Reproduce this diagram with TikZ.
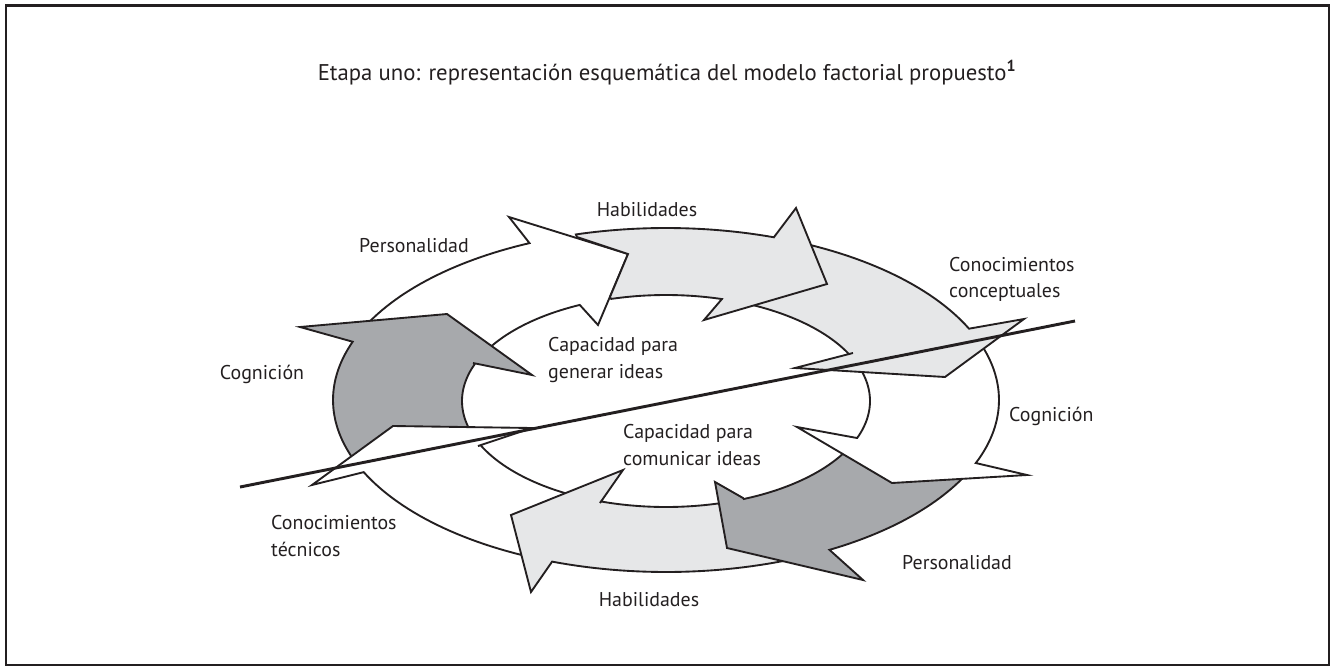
\documentclass[tikz,border=0pt]{standalone}
\usepackage{fontspec}
\setmainfont{PT Sans}
\usepackage{tikz}
\usetikzlibrary{positioning}
\definecolor{gris}{RGB}{167,169,172}
\definecolor{grisclair}{RGB}{230,231,232}
\definecolor{trait}{RGB}{35,31,32}

\begin{document}
\begin{tikzpicture}[x=0.03cm,y=-0.03cm,
  fleche/.style={draw=trait,line width=1.6pt},
  sombre/.style={fleche,fill=gris},
  pale/.style={fleche,fill=grisclair},
  blanche/.style={fleche,fill=white},
  etiquette/.style={font=\fontsize{17}{22.5}\selectfont,inner sep=0pt,align=left,text=trait}]
\useasboundingbox (0,0) rectangle (1334,666);
\draw[line width=2pt,trait] (6,5.5) rectangle (1329,665);
\node[etiquette,font=\fontsize{19.4}{22}\selectfont,anchor=base] (titre) at (667,80) {Etapa uno: representación esquemática del modelo factorial propuesto\textsuperscript{\bfseries 1}};
% anneau des fleches (ellipse ext. 333x172, int. 204x106)
% Personalidad (haut)
\draw[blanche] plot[domain=206:245.8,samples=30] ({666+333*cos(\x)},{400+172*sin(\x)}) -- (509,217) -- (628,254) -- (598,325)
  -- plot[domain=245:208,samples=30] ({666+204*cos(\x)},{401+106*sin(\x)}) -- cycle;
% Cognicion (gauche)
\draw[sombre] plot[domain=159:199.8,samples=30] ({666+333*cos(\x)},{400+172*sin(\x)}) -- (300,327) -- (447,314) -- (532,375) -- (473,363)
  -- plot[domain=200.7:163,samples=30] ({666+204*cos(\x)},{401+106*sin(\x)}) -- cycle;
% Conocimientos tecnicos
\draw[blanche] plot[domain=113:155.2,samples=30] ({666+333*cos(\x)},{400+172*sin(\x)}) -- (312,485) -- (393,426) -- (532,428) -- (478,446)
  -- plot[domain=155.3:118,samples=30] ({666+204*cos(\x)},{401+106*sin(\x)}) -- cycle;
% Habilidades (bas)
\draw[pale] plot[domain=66:110,samples=30] ({666+333*cos(\x)},{400+172*sin(\x)}) -- (531,592) -- (511,515) -- (623,470) -- (600,503)
  -- plot[domain=108.6:72,samples=30] ({666+204*cos(\x)},{401+106*sin(\x)}) -- cycle;
% Personalidad (bas)
\draw[sombre] plot[domain=25:60.6,samples=30] ({666+333*cos(\x)},{400+172*sin(\x)}) -- (863,580) -- (727,548) -- (715,482) -- (743,498)
  -- plot[domain=67.6:27,samples=30] ({666+204*cos(\x)},{401+106*sin(\x)}) -- cycle;
% Cognicion (droite)
\draw[blanche] plot[domain=-20:21.5,samples=30] ({666+333*cos(\x)},{400+172*sin(\x)}) -- (1027,475) -- (892,483) -- (797,427) -- (857,438)
  -- plot[domain=20.4:-19,samples=30] ({666+204*cos(\x)},{401+106*sin(\x)}) -- cycle;
% Conocimientos conceptuales
\draw[pale] plot[domain=-67:-24.5,samples=30] ({666+333*cos(\x)},{400+172*sin(\x)}) -- (1024,319) -- (945,377) -- (795,368) -- (853,353)
  -- plot[domain=-26.3:-66,samples=30] ({666+204*cos(\x)},{401+106*sin(\x)}) -- cycle;
% Habilidades (haut)
\draw[pale] (577,237) -- plot[domain=-105.7:-71.1,samples=30] ({666+333*cos(\x)},{400+172*sin(\x)}) -- (796,208) -- (827,284) -- (704,320)
  -- plot[domain=-74.1:-105.6,samples=30] ({666+204*cos(\x)},{401+106*sin(\x)}) -- (610,297) -- (628,254) -- cycle;
% droite oblique
\coordinate (bas) at (240,487);
\coordinate (haut) at (1075,321);
\draw[line width=2.5pt,trait] (bas) -- (haut);
% etiquettes
\node[etiquette,anchor=base] (hab1) at (647,216) {Habilidades};
\node[etiquette,anchor=base] (pers1) at (414,252.5) {Personalidad};
\node[etiquette,anchor=base west] (concep) at (949,297.5) {Conocimientos\\conceptuales};
\node[etiquette,anchor=base] (cog1) at (262,379) {Cognición};
\node[etiquette,anchor=base west] (genera) at (548,378) {Capacidad para\\generar ideas};
\node[etiquette,anchor=base west] (cog2) at (1009,421.5) {Cognición};
\node[etiquette,anchor=base west] (comunica) at (623,465) {Capacidad para\\comunicar ideas};
\node[etiquette,anchor=base west] (tecnic) at (271,556) {Conocimientos\\técnicos};
\node[etiquette,anchor=base] (pers2) at (957,569) {Personalidad};
\node[etiquette,anchor=base] (hab2) at (649,606) {Habilidades};
\end{tikzpicture}
\end{document}
